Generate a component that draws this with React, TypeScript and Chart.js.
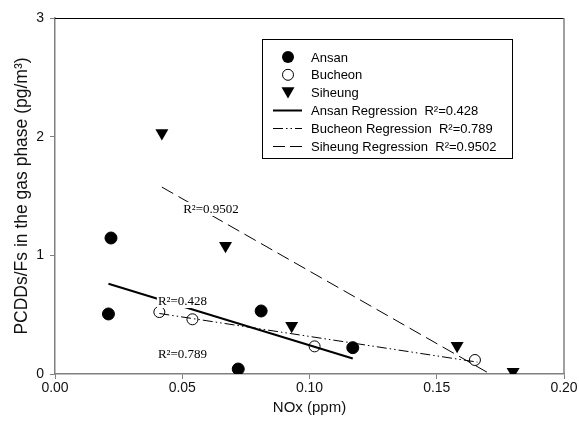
import React, { useEffect, useRef } from 'react';
import { Chart, registerables } from 'chart.js';

Chart.register(...registerables);

// ---- data ----
const ansanX = [0.021, 0.022, 0.072, 0.081, 0.117];
const ansanY = [0.506, 1.146, 0.042, 0.531, 0.222];
const bucheonX = [0.041, 0.054, 0.102, 0.165];
const bucheonY = [0.522, 0.461, 0.233, 0.118];
const siheungX = [0.042, 0.067, 0.093, 0.158, 0.18];
const siheungY = [2.03, 1.08, 0.407, 0.238, 0.02];
const ansanRegX = [0.021, 0.117];
const ansanRegY = [0.76, 0.13];
const bucheonRegX = [0.041, 0.166];
const bucheonRegY = [0.51, 0.1];
const siheungRegX = [0.042, 0.171];
const siheungRegY = [1.575, 0.0];
const xTicks = [0, 0.05, 0.1, 0.15, 0.2];
const yTicks = [0, 1, 2, 3];
const seriesNames = ['Ansan', 'Bucheon', 'Siheung'];
const regressionNames = [
  'Ansan Regression  R\u00B2=0.428',
  'Bucheon Regression  R\u00B2=0.789',
  'Siheung Regression  R\u00B2=0.9502',
];
const r2Texts = ['R\u00B2=0.9502', 'R\u00B2=0.428', 'R\u00B2=0.789'];

const zip = (xs: number[], ys: number[]) => xs.map((x, i) => ({ x, y: ys[i] }));

const SANS = '"Liberation Sans", Arial, sans-serif';
const SERIF = '"Liberation Serif", "Times New Roman", serif';

const r2Anchors = [
  { x: 0.0613, y: 1.39 },
  { x: 0.0501, y: 0.615 },
  { x: 0.0501, y: 0.169 },
];

function drawTriangleDown(ctx: CanvasRenderingContext2D, cx: number, cy: number, r: number) {
  const s = r * Math.sin(Math.PI / 3);
  ctx.beginPath();
  ctx.moveTo(cx - s, cy - r / 2);
  ctx.lineTo(cx + s, cy - r / 2);
  ctx.lineTo(cx, cy + r);
  ctx.closePath();
  ctx.fill();
}

const framePlugin = {
  id: 'frame',
  afterDatasetsDraw(chart: any) {
    const { ctx, chartArea } = chart;
    const { left, right, top, bottom } = chartArea;
    ctx.save();
    // r2 labels with white background
    ctx.font = `13px ${SERIF}`;
    ctx.textAlign = 'center';
    ctx.textBaseline = 'middle';
    r2Texts.forEach((t, i) => {
      const px = chart.scales.x.getPixelForValue(r2Anchors[i].x);
      const py = chart.scales.y.getPixelForValue(r2Anchors[i].y);
      const w = ctx.measureText(t).width;
      ctx.fillStyle = '#fff';
      ctx.fillRect(px - w / 2 - 1, py - 7, w + 2, 14);
      ctx.fillStyle = '#000';
      ctx.fillText(t, px, py + 1);
    });
    // top and right frame
    ctx.lineWidth = 1;
    ctx.strokeStyle = '#000';
    ctx.beginPath();
    ctx.moveTo(left, top + 0.5);
    ctx.lineTo(right, top + 0.5);
    ctx.stroke();
    ctx.strokeStyle = '#808080';
    ctx.lineWidth = 1.5;
    ctx.beginPath();
    ctx.moveTo(right, top);
    ctx.lineTo(right, bottom);
    ctx.stroke();

    // legend box
    const bx = 262, by = 39, bw = 250, bh = 119;
    ctx.fillStyle = '#fff';
    ctx.fillRect(bx, by, bw, bh);
    ctx.strokeStyle = '#000';
    ctx.lineWidth = 1;
    ctx.strokeRect(bx + 0.5, by + 0.5, bw, bh);
    const rowY = (i: number) => 57 + i * 17.8;
    const mx = 288;
    const tx = 311;
    ctx.font = `13px ${SANS}`;
    ctx.textAlign = 'left';
    ctx.textBaseline = 'middle';
    ctx.fillStyle = '#000';
    // markers
    ctx.beginPath();
    ctx.arc(mx, rowY(0), 6, 0, Math.PI * 2);
    ctx.fill();
    ctx.beginPath();
    ctx.arc(mx, rowY(1), 5.5, 0, Math.PI * 2);
    ctx.lineWidth = 1;
    ctx.stroke();
    drawTriangleDown(ctx, mx, rowY(2) - 1.5, 7.5);
    seriesNames.forEach((n, i) => ctx.fillText(n, tx, rowY(i) + 1));
    // line samples
    const dashes = [[], [10, 3, 1.5, 3, 1.5, 3], [12, 5]];
    const widths = [2, 1, 1];
    regressionNames.forEach((n, i) => {
      const y = Math.round(rowY(i + 3)) + 0.5;
      ctx.setLineDash(dashes[i]);
      ctx.lineWidth = widths[i];
      ctx.beginPath();
      ctx.moveTo(273, y);
      ctx.lineTo(302, y);
      ctx.stroke();
      ctx.setLineDash([]);
      ctx.fillText(n, tx, rowY(i + 3) + 1);
    });
    ctx.restore();
  },
};

export default function App() {
  const ref = useRef<HTMLCanvasElement | null>(null);
  useEffect(() => {
    document.body.style.margin = '0';
    const canvas = ref.current;
    if (!canvas) return;
    const chart = new Chart(canvas, {
      type: 'scatter',
      data: {
        datasets: [
          {
            label: seriesNames[0],
            data: zip(ansanX, ansanY),
            pointStyle: 'circle',
            pointRadius: 6,
            backgroundColor: '#000',
            borderColor: '#000',
            borderWidth: 1,
          },
          {
            label: seriesNames[1],
            data: zip(bucheonX, bucheonY),
            pointStyle: 'circle',
            pointRadius: 5.5,
            backgroundColor: 'rgba(0,0,0,0)',
            borderColor: '#000',
            borderWidth: 1,
          },
          {
            label: seriesNames[2],
            data: zip(siheungX, siheungY),
            pointStyle: 'triangle',
            rotation: 180,
            pointRadius: 7.5,
            backgroundColor: '#000',
            borderColor: '#000',
            borderWidth: 0,
          },
          {
            label: regressionNames[0],
            data: zip(ansanRegX, ansanRegY),
            showLine: true,
            pointRadius: 0,
            borderColor: '#000',
            borderWidth: 2,
          },
          {
            label: regressionNames[1],
            data: zip(bucheonRegX, bucheonRegY),
            showLine: true,
            pointRadius: 0,
            borderColor: '#000',
            borderWidth: 1,
            borderDash: [10, 3, 1.5, 3, 1.5, 3],
          },
          {
            label: regressionNames[2],
            data: zip(siheungRegX, siheungRegY),
            showLine: true,
            pointRadius: 0,
            borderColor: '#000',
            borderWidth: 1,
            borderDash: [13, 6],
          },
        ],
      },
      options: {
        responsive: false,
        animation: false,
        devicePixelRatio: 1,
        layout: { padding: { top: 18, right: 15, left: 0, bottom: 0 } },
        plugins: {
          legend: { display: false },
          tooltip: { enabled: false },
        },
        scales: {
          x: {
            type: 'linear',
            min: 0,
            max: 0.2,
            afterBuildTicks: (s: any) => {
              s.ticks = xTicks.map((v) => ({ value: v }));
            },
            afterFit: (s: any) => {
              s.height = 51;
            },
            grid: { display: true, drawOnChartArea: false, drawTicks: true, tickLength: 5, color: '#808080', lineWidth: 1 },
            border: { display: true, color: '#808080', width: 1.5 },
            ticks: {
              font: { family: SANS, size: 14 },
              color: '#111',
              padding: 1,
              maxRotation: 0,
              callback: (v: any) => Number(v).toFixed(2),
            },
            title: {
              display: true,
              text: 'NOx (ppm)',
              font: { family: SANS, size: 15 },
              color: '#111',
              padding: { top: 0, bottom: 8 },
            },
          },
          y: {
            type: 'linear',
            min: 0,
            max: 3,
            afterBuildTicks: (s: any) => {
              s.ticks = yTicks.map((v) => ({ value: v }));
            },
            afterFit: (s: any) => {
              s.width = 55;
            },
            grid: { display: true, drawOnChartArea: false, drawTicks: true, tickLength: 5, color: '#808080', lineWidth: 1 },
            border: { display: true, color: '#808080', width: 1.5 },
            ticks: {
              font: { family: SANS, size: 14 },
              color: '#111',
              padding: 6,
              callback: (v: any) => String(v),
            },
            title: {
              display: true,
              text: 'PCDDs/Fs in the gas phase (pg/m\u00B3)',
              font: { family: SANS, size: 17.5 },
              color: '#111',
              padding: { top: 11.5, bottom: 0 },
            },
          },
        },
      },
      plugins: [framePlugin],
    } as any);
    return () => chart.destroy();
  }, []);
  return <canvas ref={ref} width={579} height={425} style={{ display: 'block' }} />;
}
